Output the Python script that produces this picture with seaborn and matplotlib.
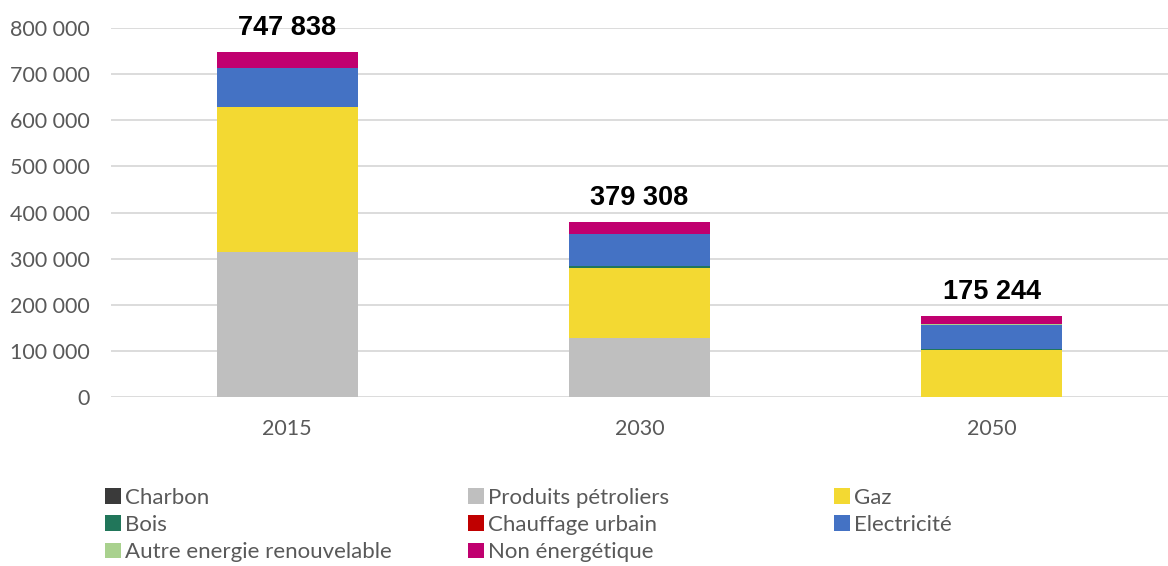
import matplotlib
matplotlib.use("Agg")
import matplotlib.pyplot as plt
import seaborn as sns
import numpy as np
import pandas as pd
from matplotlib.ticker import FuncFormatter
from matplotlib.patches import Patch

years = ["2015", "2030", "2050"]
series_names = ["Charbon", "Produits pétroliers", "Gaz", "Bois", "Chauffage urbain",
                "Electricité", "Autre energie renouvelable", "Non énergétique"]
charbon = [0, 0, 0]
petrole = [314000, 127000, 0]
gaz = [314000, 153500, 101500]
bois = [0, 2600, 2000]
chauffage = [0, 0, 0]
electricite = [85500, 71000, 53500]
autre_enr = [0, 0, 1000]
non_energetique = [34338, 25208, 17244]
totals = [747838, 379308, 175244]
colors = ["#3A3A3A", "#BFBFBF", "#F3D932", "#21765A", "#C00000",
          "#4472C4", "#A9D18E", "#C0006F"]

series_values = [charbon, petrole, gaz, bois, chauffage, electricite, autre_enr, non_energetique]

sns.set_style("white")
plt.rcParams['font.family'] = ['Lato', 'DejaVu Sans']

fig = plt.figure(figsize=(11.68, 5.66), dpi=100)
ax = fig.add_axes([0.095, 0.2986, 0.905, 0.6519])

bottom = np.zeros(len(years))
for name, vals, col in zip(series_names, series_values, colors):
    df = pd.DataFrame({"year": years, "value": vals})
    sns.barplot(data=df, x="year", y="value", color=col, width=0.4,
                bottom=bottom.copy(), ax=ax, saturation=1, errorbar=None,
                linewidth=0)
    bottom += np.array(vals, dtype=float)

ax.set_ylim(0, 800000)
ax.set_xlim(-0.5, 2.5)
ax.set_yticks(np.arange(0, 800001, 100000))
ax.yaxis.set_major_formatter(FuncFormatter(lambda v, p: f"{int(v):,}".replace(",", " ")))
ax.grid(axis="y", color="#D9D9D9", linewidth=1.3)
ax.set_axisbelow(True)
for s in ax.spines.values():
    s.set_visible(False)
ax.set_xlabel("")
ax.set_ylabel("")
ax.tick_params(axis="both", length=0, labelsize=15.5, labelcolor="#595959")
ax.tick_params(axis="y", pad=15)
ax.tick_params(axis="x", pad=16)

for i, t in enumerate(totals):
    ax.annotate(f"{t:,}".replace(",", " "), xy=(i, t), xytext=(0, 8),
                textcoords="offset points", ha="center", va="bottom",
                fontsize=19.5, fontweight="bold", color="black",
                family=['Liberation Sans', 'DejaVu Sans'], annotation_clip=False)

# legend in three columns
cols_idx = [[0, 3, 6], [1, 4, 7], [2, 5]]
xpos = [0.090, 0.401, 0.714]
for idxs, xp in zip(cols_idx, xpos):
    handles = [Patch(facecolor=colors[i], edgecolor="none", label=series_names[i]) for i in idxs]
    leg = fig.legend(handles=handles, loc="upper left", bbox_to_anchor=(xp, 0.138),
                     frameon=False, fontsize=16, handlelength=0.7, handleheight=0.7,
                     handletextpad=0.2, labelspacing=0.32, borderaxespad=0, borderpad=0)
    for txt in leg.get_texts():
        txt.set_color("#595959")

fig.savefig("out.png", dpi=100)
